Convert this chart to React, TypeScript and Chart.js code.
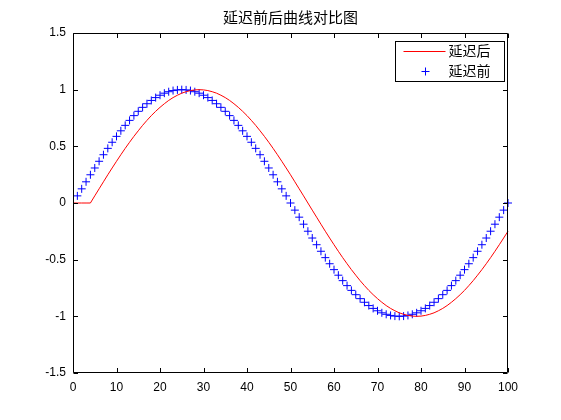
import React, { useEffect, useRef } from "react";
import { Chart, registerables } from "chart.js";

Chart.register(...registerables);

const chartTitle = "延迟前后曲线对比图";
const labelAfter = "延迟后";
const labelBefore = "延迟前";

// sample index n = 0 .. 100
const sampleIndex = [
  0, 1, 2, 3, 4, 5, 6, 7, 8, 9, 10, 11, 12, 13, 14, 15, 16, 17, 18, 19, 20,
  21, 22, 23, 24, 25, 26, 27, 28, 29, 30, 31, 32, 33, 34, 35, 36, 37, 38, 39, 40,
  41, 42, 43, 44, 45, 46, 47, 48, 49, 50, 51, 52, 53, 54, 55, 56, 57, 58, 59, 60,
  61, 62, 63, 64, 65, 66, 67, 68, 69, 70, 71, 72, 73, 74, 75, 76, 77, 78, 79, 80,
  81, 82, 83, 84, 85, 86, 87, 88, 89, 90, 91, 92, 93, 94, 95, 96, 97, 98, 99, 100,
];

// red line "延迟后" at n = 0 .. 100
const delayedValues = [
  0, 0, 0, 0, 0,
  0.063, 0.125, 0.187, 0.249, 0.309, 0.368, 0.426, 0.482, 0.536, 0.588,
  0.637, 0.685, 0.729, 0.771, 0.809, 0.844, 0.876, 0.905, 0.930, 0.951,
  0.969, 0.982, 0.992, 0.998, 1.0,
  0.998, 0.992, 0.982, 0.969, 0.951, 0.930, 0.905, 0.876, 0.844, 0.809,
  0.771, 0.729, 0.685, 0.637, 0.588, 0.536, 0.482, 0.426, 0.368, 0.309,
  0.249, 0.187, 0.125, 0.063, 0.0,
  -0.063, -0.125, -0.187, -0.249, -0.309, -0.368, -0.426, -0.482, -0.536, -0.588,
  -0.637, -0.685, -0.729, -0.771, -0.809, -0.844, -0.876, -0.905, -0.930, -0.951,
  -0.969, -0.982, -0.992, -0.998, -1.0,
  -0.998, -0.992, -0.982, -0.969, -0.951, -0.930, -0.905, -0.876, -0.844, -0.809,
  -0.771, -0.729, -0.685, -0.637, -0.588, -0.536, -0.482, -0.426, -0.368, -0.309,
  -0.249,
];

// blue "+" markers "延迟前" at n = 1 .. 100
const originalValues = [
  0.063, 0.125, 0.187, 0.249, 0.309, 0.368, 0.426, 0.482, 0.536, 0.588,
  0.637, 0.685, 0.729, 0.771, 0.809, 0.844, 0.876, 0.905, 0.930, 0.951,
  0.969, 0.982, 0.992, 0.998, 1.0,
  0.998, 0.992, 0.982, 0.969, 0.951, 0.930, 0.905, 0.876, 0.844, 0.809,
  0.771, 0.729, 0.685, 0.637, 0.588, 0.536, 0.482, 0.426, 0.368, 0.309,
  0.249, 0.187, 0.125, 0.063, 0.0,
  -0.063, -0.125, -0.187, -0.249, -0.309, -0.368, -0.426, -0.482, -0.536, -0.588,
  -0.637, -0.685, -0.729, -0.771, -0.809, -0.844, -0.876, -0.905, -0.930, -0.951,
  -0.969, -0.982, -0.992, -0.998, -1.0,
  -0.998, -0.992, -0.982, -0.969, -0.951, -0.930, -0.905, -0.876, -0.844, -0.809,
  -0.771, -0.729, -0.685, -0.637, -0.588, -0.536, -0.482, -0.426, -0.368, -0.309,
  -0.249, -0.187, -0.125, -0.063, 0.0,
];

const xTicks = [0, 10, 20, 30, 40, 50, 60, 70, 80, 90, 100];
const yTicks = [-1.5, -1, -0.5, 0, 0.5, 1, 1.5];

const RED = "#ff0000";
const BLUE = "#0000ff";
const TICK_FONT = { family: "'Liberation Sans', Arial, sans-serif", size: 12 };
const CJK = "'Noto Sans CJK SC', sans-serif";
const MARK = 4;

const titlePlugin = {
  id: "areaTitle",
  afterDraw(chart: any) {
    const { ctx, chartArea } = chart;
    ctx.save();
    ctx.font = `15px ${CJK}`;
    ctx.fillStyle = "#000";
    ctx.textAlign = "center";
    ctx.textBaseline = "middle";
    ctx.fillText(chartTitle, (chartArea.left + chartArea.right) / 2, chartArea.top - 16);
    ctx.restore();
  },
};

const boxAndTicksPlugin = {
  id: "boxAndTicks",
  afterDatasetsDraw(chart: any) {
    const { ctx, chartArea, scales } = chart;
    const L = Math.round(chartArea.left) + 0.5;
    const R = Math.round(chartArea.right) - 0.5;
    const T = Math.round(chartArea.top) + 0.5;
    const B = Math.round(chartArea.bottom) - 0.5;
    const len = 4.5;
    ctx.save();
    ctx.strokeStyle = "#000";
    ctx.lineWidth = 1;
    ctx.beginPath();
    ctx.rect(L, T, R - L, B - T);
    for (const t of scales.x.ticks) {
      const px = Math.round(scales.x.getPixelForValue(t.value)) + 0.5;
      ctx.moveTo(px, B);
      ctx.lineTo(px, B - len);
      ctx.moveTo(px, T);
      ctx.lineTo(px, T + len);
    }
    for (const t of scales.y.ticks) {
      const py = Math.round(scales.y.getPixelForValue(t.value)) + 0.5;
      ctx.moveTo(L, py);
      ctx.lineTo(L + len, py);
      ctx.moveTo(R, py);
      ctx.lineTo(R - len, py);
    }
    ctx.stroke();
    ctx.restore();
  },
};

const boxLegendPlugin = {
  id: "boxLegend",
  afterDraw(chart: any) {
    const { ctx, chartArea } = chart;
    const w = 109;
    const h = 40;
    const left = Math.round(chartArea.right) - 4 - w + 0.5;
    const top = Math.round(chartArea.top) + 8 + 0.5;
    ctx.save();
    ctx.fillStyle = "#fff";
    ctx.strokeStyle = "#000";
    ctx.lineWidth = 1;
    ctx.fillRect(left, top, w, h);
    ctx.strokeRect(left, top, w, h);
    const ds = chart.data.datasets;
    const rows = [top + 9, top + 29];
    ctx.font = `14px ${CJK}`;
    ctx.fillStyle = "#000";
    ctx.textBaseline = "middle";
    ctx.textAlign = "left";
    // row 1: line sample
    ctx.strokeStyle = ds[0].borderColor;
    ctx.beginPath();
    ctx.moveTo(left + 8, Math.round(rows[0]) + 0.5);
    ctx.lineTo(left + 50, Math.round(rows[0]) + 0.5);
    ctx.stroke();
    ctx.fillText(ds[0].label, left + 53, rows[0]);
    // row 2: plus sample
    const cx = Math.round(left + 29) + 0.5;
    const cy = Math.round(rows[1]) + 0.5;
    ctx.strokeStyle = ds[1].borderColor;
    ctx.beginPath();
    ctx.moveTo(cx - MARK, cy);
    ctx.lineTo(cx + MARK, cy);
    ctx.moveTo(cx, cy - MARK);
    ctx.lineTo(cx, cy + MARK);
    ctx.stroke();
    ctx.fillText(ds[1].label, left + 53, rows[1]);
    ctx.restore();
  },
};

export default function App() {
  const canvasRef = useRef<HTMLCanvasElement | null>(null);

  useEffect(() => {
    const canvas = canvasRef.current;
    if (!canvas) return;
    const chart = new Chart(canvas, {
      type: "scatter",
      data: {
        datasets: [
          {
            label: labelAfter,
            data: sampleIndex.map((n, i) => ({ x: n, y: delayedValues[i] })),
            showLine: true,
            borderColor: RED,
            backgroundColor: RED,
            borderWidth: 1,
            pointRadius: 0,
            tension: 0,
            clip: false,
          },
          {
            label: labelBefore,
            data: sampleIndex.slice(1).map((n, i) => ({ x: n, y: originalValues[i] })),
            showLine: false,
            borderColor: BLUE,
            backgroundColor: BLUE,
            pointStyle: "cross",
            pointRadius: MARK,
            pointBorderWidth: 1,
            clip: false,
          },
        ],
      },
      options: {
        responsive: false,
        animation: false,
        events: [],
        layout: { padding: { left: 0, right: 53, top: 33, bottom: 0 } },
        plugins: {
          legend: { display: false },
          tooltip: { enabled: false },
          title: { display: false },
        },
        scales: {
          x: {
            type: "linear",
            min: xTicks[0],
            max: xTicks[xTicks.length - 1],
            grid: { display: false, drawTicks: false },
            border: { display: false },
            afterBuildTicks: (scale: any) => {
              scale.ticks = xTicks.map((v) => ({ value: v }));
            },
            afterFit: (scale: any) => {
              scale.height = 47;
            },
            ticks: {
              color: "#000",
              font: TICK_FONT,
              padding: 7,
              maxRotation: 0,
              autoSkip: false,
              callback: (v: any) => String(v),
            },
          },
          y: {
            type: "linear",
            min: yTicks[0],
            max: yTicks[yTicks.length - 1],
            grid: { display: false, drawTicks: false },
            border: { display: false },
            afterBuildTicks: (scale: any) => {
              scale.ticks = yTicks.map((v) => ({ value: v }));
            },
            afterFit: (scale: any) => {
              scale.width = 73;
            },
            ticks: {
              color: "#000",
              font: TICK_FONT,
              padding: 7,
              autoSkip: false,
              callback: (v: any) => String(v),
            },
          },
        },
      },
      plugins: [boxAndTicksPlugin, boxLegendPlugin, titlePlugin],
    });
    return () => chart.destroy();
  }, []);

  return (
    <div style={{ position: "fixed", left: 0, top: 0, width: 561, height: 420, background: "#fff" }}>
      <canvas ref={canvasRef} width={561} height={420} style={{ display: "block" }} />
    </div>
  );
}
